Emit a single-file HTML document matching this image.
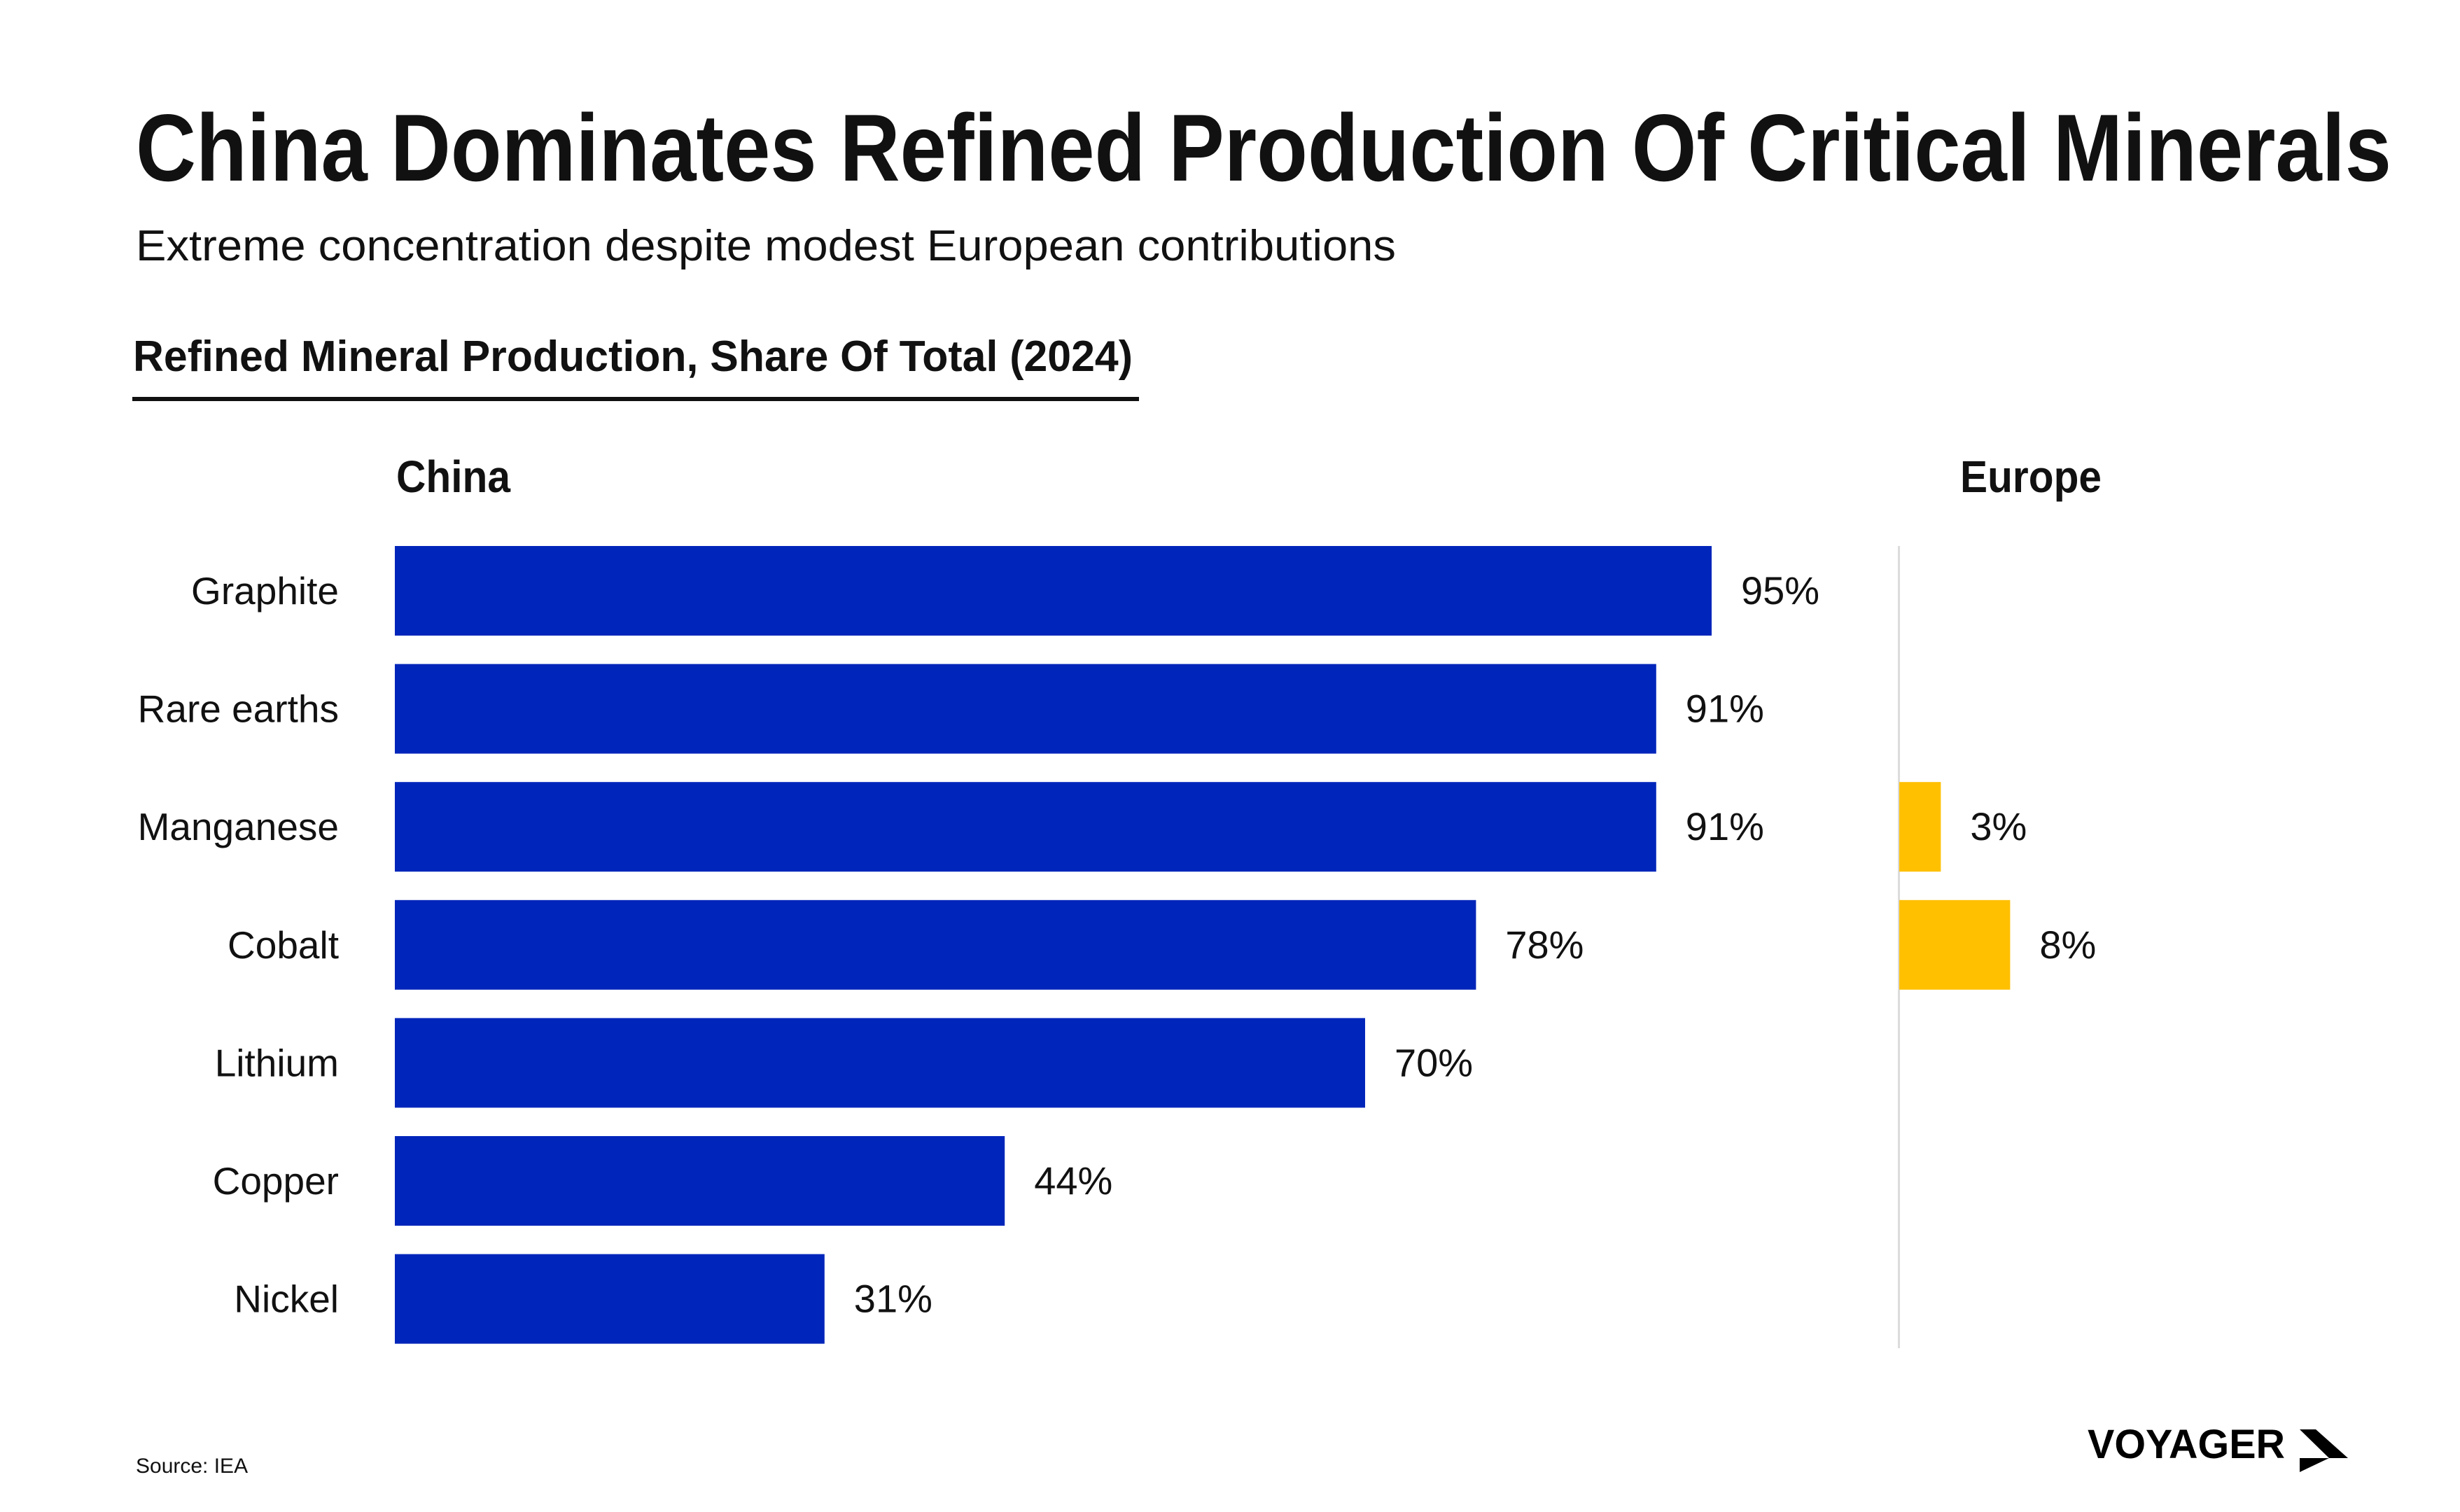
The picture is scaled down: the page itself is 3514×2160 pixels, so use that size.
<!DOCTYPE html>
<html><head><meta charset="utf-8"><style>
html,body{margin:0;padding:0;background:#fff;}
svg{display:block;font-family:"Liberation Sans",sans-serif;}
</style></head><body>
<svg id="chart" width="3514" height="2160" viewBox="0 0 3514 2160" xmlns="http://www.w3.org/2000/svg">
<text x="194" y="258" font-size="136" font-weight="bold" fill="#111" textLength="3222" lengthAdjust="spacingAndGlyphs">China Dominates Refined Production Of Critical Minerals</text>
<text x="194" y="372" font-size="62" fill="#111" textLength="1800" lengthAdjust="spacingAndGlyphs">Extreme concentration despite modest European contributions</text>
<text x="190" y="530" font-size="62" font-weight="bold" fill="#111" textLength="1428" lengthAdjust="spacingAndGlyphs">Refined Mineral Production, Share Of Total (2024)</text>
<rect x="189" y="567" width="1438" height="6" fill="#111"/>
<text x="566" y="703" font-size="64" font-weight="bold" fill="#111" textLength="163" lengthAdjust="spacingAndGlyphs">China</text>
<text x="2800" y="703" font-size="64" font-weight="bold" fill="#111" textLength="202" lengthAdjust="spacingAndGlyphs">Europe</text>
<rect x="2711" y="780" width="3" height="1146" fill="#dcdcdc"/>
<g id="marks"></g>
<text x="194" y="2104" font-size="30" fill="#111">Source: IEA</text>
<g>
<text x="2982" y="2083" font-size="58" font-weight="bold" fill="#000" textLength="282" lengthAdjust="spacingAndGlyphs">VOYAGER</text>
<polygon points="3285,2042 3308,2042 3354,2083 3327,2083" fill="#000"/>
<polygon points="3285,2083 3327,2083 3285,2103" fill="#000"/>
</g>
</svg>
<script>
const categories = ["Graphite","Rare earths","Manganese","Cobalt","Lithium","Copper","Nickel"];
const chinaValues = [95,91,91,78,70,44,31];
const europeValues = [null,null,3,8,null,null,null];

const NS = "http://www.w3.org/2000/svg";
const g = document.getElementById("marks");
const chinaX0 = 564, europeX0 = 2713, pxPer = 19.8;
const rowTop0 = 780, rowPitch = 168.6, barH = 128;
function xChina(v){ return chinaX0 + v * pxPer; }
function xEurope(v){ return europeX0 + v * pxPer; }
function yRow(i){ return rowTop0 + i * rowPitch; }
function mk(tag, attrs){ const e = document.createElementNS(NS, tag); for (const k in attrs) e.setAttribute(k, attrs[k]); g.appendChild(e); return e; }

categories.forEach((c, i) => {
  const y = yRow(i), cy = y + barH / 2;
  const lab = mk("text", {x: 484, y: cy + 19, "font-size": 55, fill: "#111", "text-anchor": "end"});
  lab.textContent = c;
  
  

  const v = chinaValues[i];
  const bar = mk("rect", {x: chinaX0, y: y, width: xChina(v) - chinaX0, height: barH, fill: "#0025BA"});
  
  
  const vl = mk("text", {x: xChina(v) + 42, y: cy + 19, "font-size": 56, fill: "#111"});
  vl.textContent = v + "%";
  
  

  const e = europeValues[i];
  if (e !== null) {
    const eb = mk("rect", {x: europeX0, y: y, width: xEurope(e) - europeX0, height: barH, fill: "#FFC000"});
    
    
    const el = mk("text", {x: xEurope(e) + 42, y: cy + 19, "font-size": 56, fill: "#111"});
    el.textContent = e + "%";
    
    
  }
});
</script>
</body></html>
